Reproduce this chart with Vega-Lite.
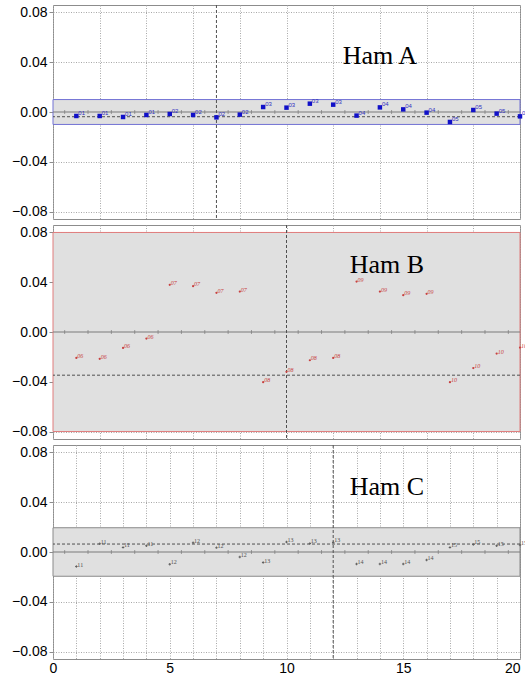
{
  "$schema": "https://vega.github.io/schema/vega-lite/v6.json",
  "padding": {"left": 11, "top": 4, "right": 3, "bottom": 0},
  "spacing": 4,
  "config": {
    "view": {"stroke": "#8c8c8c", "strokeWidth": 1},
    "font": "Liberation Sans",
    "axis": {"zindex": 1, "grid": true, "gridColor": "#a8a8a8", "gridDash": [1, 1.5], "gridWidth": 1, "domain": false, "labelFont": "Liberation Sans", "labelFontSize": 14, "labelColor": "#000000", "tickColor": "#8c8c8c", "title": null}
  },
  "datasets": {
    "pts": [
      {"panel": "A", "x": 1, "y": -0.0032, "label": "01"},
      {"panel": "A", "x": 2, "y": -0.0032, "label": "01"},
      {"panel": "A", "x": 3, "y": -0.004, "label": "01"},
      {"panel": "A", "x": 4, "y": -0.0024, "label": "01"},
      {"panel": "A", "x": 5, "y": -0.0016, "label": "02"},
      {"panel": "A", "x": 6, "y": -0.0024, "label": "02"},
      {"panel": "A", "x": 7, "y": -0.0043, "label": "02"},
      {"panel": "A", "x": 8, "y": -0.0021, "label": "02"},
      {"panel": "A", "x": 9, "y": 0.004, "label": "03"},
      {"panel": "A", "x": 10, "y": 0.0035, "label": "03"},
      {"panel": "A", "x": 11, "y": 0.0067, "label": "03"},
      {"panel": "A", "x": 12, "y": 0.0059, "label": "03"},
      {"panel": "A", "x": 13, "y": -0.0029, "label": "04"},
      {"panel": "A", "x": 14, "y": 0.0037, "label": "04"},
      {"panel": "A", "x": 15, "y": 0.0021, "label": "04"},
      {"panel": "A", "x": 16, "y": -0.0005, "label": "04"},
      {"panel": "A", "x": 17, "y": -0.008, "label": "05"},
      {"panel": "A", "x": 18, "y": 0.0016, "label": "05"},
      {"panel": "A", "x": 19, "y": -0.0013, "label": "05"},
      {"panel": "A", "x": 20, "y": -0.0035, "label": "05"},
      {"panel": "B", "x": 1, "y": -0.0208, "label": "06"},
      {"panel": "B", "x": 2, "y": -0.0216, "label": "06"},
      {"panel": "B", "x": 3, "y": -0.0128, "label": "06"},
      {"panel": "B", "x": 4, "y": -0.0053, "label": "06"},
      {"panel": "B", "x": 5, "y": 0.0379, "label": "07"},
      {"panel": "B", "x": 6, "y": 0.0368, "label": "07"},
      {"panel": "B", "x": 7, "y": 0.0315, "label": "07"},
      {"panel": "B", "x": 8, "y": 0.0325, "label": "07"},
      {"panel": "B", "x": 9, "y": -0.0403, "label": "08"},
      {"panel": "B", "x": 10, "y": -0.032, "label": "08"},
      {"panel": "B", "x": 11, "y": -0.0227, "label": "08"},
      {"panel": "B", "x": 12, "y": -0.0208, "label": "08"},
      {"panel": "B", "x": 13, "y": 0.0405, "label": "09"},
      {"panel": "B", "x": 14, "y": 0.0325, "label": "09"},
      {"panel": "B", "x": 15, "y": 0.0296, "label": "09"},
      {"panel": "B", "x": 16, "y": 0.0307, "label": "09"},
      {"panel": "B", "x": 17, "y": -0.0403, "label": "10"},
      {"panel": "B", "x": 18, "y": -0.029, "label": "10"},
      {"panel": "B", "x": 19, "y": -0.0173, "label": "10"},
      {"panel": "B", "x": 20, "y": -0.0125, "label": "10"},
      {"panel": "C", "x": 1, "y": -0.0117, "label": "11"},
      {"panel": "C", "x": 2, "y": 0.0067, "label": "11"},
      {"panel": "C", "x": 3, "y": 0.0037, "label": "11"},
      {"panel": "C", "x": 4, "y": 0.0051, "label": "11"},
      {"panel": "C", "x": 5, "y": -0.0099, "label": "12"},
      {"panel": "C", "x": 6, "y": 0.0075, "label": "12"},
      {"panel": "C", "x": 7, "y": 0.0035, "label": "12"},
      {"panel": "C", "x": 8, "y": -0.004, "label": "12"},
      {"panel": "C", "x": 9, "y": -0.0085, "label": "13"},
      {"panel": "C", "x": 10, "y": 0.008, "label": "13"},
      {"panel": "C", "x": 11, "y": 0.0069, "label": "13"},
      {"panel": "C", "x": 12, "y": 0.0077, "label": "13"},
      {"panel": "C", "x": 13, "y": -0.0096, "label": "14"},
      {"panel": "C", "x": 14, "y": -0.0096, "label": "14"},
      {"panel": "C", "x": 15, "y": -0.0096, "label": "14"},
      {"panel": "C", "x": 16, "y": -0.0064, "label": "14"},
      {"panel": "C", "x": 17, "y": 0.0037, "label": "15"},
      {"panel": "C", "x": 18, "y": 0.0061, "label": "15"},
      {"panel": "C", "x": 19, "y": 0.0051, "label": "15"},
      {"panel": "C", "x": 20, "y": 0.0056, "label": "15"}
    ],
    "ticks": [
      {"t": 0.5}, {"t": 1.5}, {"t": 2.5}, {"t": 3.5}, {"t": 4.5}, {"t": 5.5}, {"t": 6.5}, {"t": 7.5}, {"t": 8.5}, {"t": 9.5},
      {"t": 10.5}, {"t": 11.5}, {"t": 12.5}, {"t": 13.5}, {"t": 14.5}, {"t": 15.5}, {"t": 16.5}, {"t": 17.5}, {"t": 18.5}, {"t": 19.5}
    ]
  },
  "vconcat": [
    {
      "width": 467, "height": 214,
      "layer": [
        {
          "data": {"values": [{}]},
          "mark": {"type": "rect", "fill": "#e0e0e0", "stroke": "#7272d4", "strokeWidth": 1},
          "encoding": {
            "x": {"datum": 0, "type": "quantitative", "scale": {"domain": [0, 20], "nice": false, "zero": false},
                  "axis": {"grid": true, "values": [0,1,2,3,4,5,6,7,8,9,10,11,12,13,14,15,16,17,18,19,20], "labels": false, "ticks": false}},
            "x2": {"datum": 20},
            "y": {"datum": -0.01, "type": "quantitative", "scale": {"domain": [-0.086, 0.086], "nice": false, "zero": false},
                  "axis": {"grid": true, "values": [-0.08,-0.07,-0.06,-0.05,-0.04,-0.03,-0.02,-0.01,0,0.01,0.02,0.03,0.04,0.05,0.06,0.07,0.08],
                           "labelExpr": "abs(round(datum.value*100)) % 4 == 0 ? format(datum.value, '.2f') : ''", "tickSize": 4, "labelPadding": 2}},
            "y2": {"datum": 0.01}
          }
        },
        {"data": {"values": [{}]}, "mark": {"type": "rule", "color": "#7a7a7a", "strokeWidth": 1}, "encoding": {"y": {"datum": 0, "type": "quantitative"}}},
        {"data": {"name": "ticks"}, "mark": {"type": "tick", "orient": "vertical", "size": 4, "thickness": 1, "color": "#7a7a7a"},
         "encoding": {"x": {"field": "t", "type": "quantitative"}, "y": {"datum": 0, "type": "quantitative"}}},
        {"data": {"values": [{}]}, "mark": {"type": "rule", "color": "#505050", "strokeDash": [3, 2], "strokeWidth": 1}, "encoding": {"y": {"datum": -0.0038, "type": "quantitative"}}},
        {"data": {"values": [{}]}, "mark": {"type": "rule", "color": "#505050", "strokeDash": [3, 2], "strokeWidth": 1}, "encoding": {"x": {"datum": 7, "type": "quantitative"}}},
        {"data": {"name": "pts"}, "transform": [{"filter": "datum.panel == 'A'"}],
         "mark": {"type": "point", "shape": "square", "filled": true, "size": 20, "color": "#1010c8", "opacity": 1},
         "encoding": {"x": {"field": "x", "type": "quantitative"}, "y": {"field": "y", "type": "quantitative"}}},
        {"data": {"name": "pts"}, "transform": [{"filter": "datum.panel == 'A'"}],
         "mark": {"type": "text", "fontSize": 6, "align": "left", "baseline": "middle", "dx": 2, "dy": -3, "color": "#3030c0"},
         "encoding": {"x": {"field": "x", "type": "quantitative"}, "y": {"field": "y", "type": "quantitative"}, "text": {"field": "label"}}},
        {"data": {"values": [{}]}, "mark": {"type": "text", "font": "Liberation Serif", "fontSize": 26, "color": "#000000"},
         "encoding": {"x": {"datum": 14.0, "type": "quantitative"}, "y": {"datum": 0.045, "type": "quantitative"}, "text": {"value": "Ham A"}}}
      ]
    },
    {
      "width": 467, "height": 214,
      "layer": [
        {
          "data": {"values": [{}]},
          "mark": {"type": "rect", "fill": "#e0e0e0", "stroke": "#e07c7c", "strokeWidth": 1},
          "encoding": {
            "x": {"datum": 0, "type": "quantitative", "scale": {"domain": [0, 20], "nice": false, "zero": false},
                  "axis": {"grid": true, "values": [0,1,2,3,4,5,6,7,8,9,10,11,12,13,14,15,16,17,18,19,20], "labels": false, "ticks": false}},
            "x2": {"datum": 20},
            "y": {"datum": -0.08, "type": "quantitative", "scale": {"domain": [-0.086, 0.086], "nice": false, "zero": false},
                  "axis": {"grid": true, "values": [-0.08,-0.07,-0.06,-0.05,-0.04,-0.03,-0.02,-0.01,0,0.01,0.02,0.03,0.04,0.05,0.06,0.07,0.08],
                           "labelExpr": "abs(round(datum.value*100)) % 4 == 0 ? format(datum.value, '.2f') : ''", "tickSize": 4, "labelPadding": 2}},
            "y2": {"datum": 0.08}
          }
        },
        {"data": {"values": [{}]}, "mark": {"type": "rule", "color": "#7a7a7a", "strokeWidth": 1}, "encoding": {"y": {"datum": 0, "type": "quantitative"}}},
        {"data": {"name": "ticks"}, "mark": {"type": "tick", "orient": "vertical", "size": 4, "thickness": 1, "color": "#7a7a7a"},
         "encoding": {"x": {"field": "t", "type": "quantitative"}, "y": {"datum": 0, "type": "quantitative"}}},
        {"data": {"values": [{}]}, "mark": {"type": "rule", "color": "#505050", "strokeDash": [3, 2], "strokeWidth": 1}, "encoding": {"y": {"datum": -0.0347, "type": "quantitative"}}},
        {"data": {"values": [{}]}, "mark": {"type": "rule", "color": "#505050", "strokeDash": [3, 2], "strokeWidth": 1}, "encoding": {"x": {"datum": 10, "type": "quantitative"}}},
        {"data": {"name": "pts"}, "transform": [{"filter": "datum.panel == 'B'"}],
         "mark": {"type": "point", "shape": "circle", "filled": true, "size": 5, "color": "#c84040", "opacity": 1},
         "encoding": {"x": {"field": "x", "type": "quantitative"}, "y": {"field": "y", "type": "quantitative"}}},
        {"data": {"name": "pts"}, "transform": [{"filter": "datum.panel == 'B'"}],
         "mark": {"type": "text", "fontSize": 6, "align": "left", "baseline": "middle", "dx": 1, "dy": -2, "color": "#c84040", "font": "Liberation Serif", "fontStyle": "italic"},
         "encoding": {"x": {"field": "x", "type": "quantitative"}, "y": {"field": "y", "type": "quantitative"}, "text": {"field": "label"}}},
        {"data": {"values": [{}]}, "mark": {"type": "text", "font": "Liberation Serif", "fontSize": 26, "color": "#000000"},
         "encoding": {"x": {"datum": 14.3, "type": "quantitative"}, "y": {"datum": 0.054, "type": "quantitative"}, "text": {"value": "Ham B"}}}
      ]
    },
    {
      "width": 467, "height": 214,
      "resolve": {"axis": {"x": "independent"}},
      "layer": [
        {
          "data": {"values": [{}]},
          "mark": {"type": "rect", "fill": "#e0e0e0", "stroke": "#8a8a8a", "strokeWidth": 1},
          "encoding": {
            "x": {"datum": 0, "type": "quantitative", "scale": {"domain": [0, 20], "nice": false, "zero": false},
                  "axis": {"orient": "bottom", "grid": true, "values": [0,1,2,3,4,5,6,7,8,9,10,11,12,13,14,15,16,17,18,19,20], "labels": false, "ticks": false}},
            "x2": {"datum": 20},
            "y": {"datum": -0.0195, "type": "quantitative", "scale": {"domain": [-0.086, 0.086], "nice": false, "zero": false},
                  "axis": {"grid": true, "values": [-0.08,-0.07,-0.06,-0.05,-0.04,-0.03,-0.02,-0.01,0,0.01,0.02,0.03,0.04,0.05,0.06,0.07,0.08],
                           "labelExpr": "abs(round(datum.value*100)) % 4 == 0 ? format(datum.value, '.2f') : ''", "tickSize": 4, "labelPadding": 2}},
            "y2": {"datum": 0.0195}
          }
        },
        {"data": {"values": [{}]}, "mark": {"type": "rule", "color": "#7a7a7a", "strokeWidth": 1}, "encoding": {"y": {"datum": 0, "type": "quantitative"}}},
        {"data": {"name": "ticks"}, "mark": {"type": "tick", "orient": "vertical", "size": 4, "thickness": 1, "color": "#7a7a7a"},
         "encoding": {"x": {"field": "t", "type": "quantitative", "axis": null}, "y": {"datum": 0, "type": "quantitative"}}},
        {"data": {"values": [{}]}, "mark": {"type": "rule", "color": "#505050", "strokeDash": [3, 2], "strokeWidth": 1}, "encoding": {"y": {"datum": 0.0064, "type": "quantitative"}}},
        {"data": {"values": [{}]}, "mark": {"type": "rule", "color": "#505050", "strokeDash": [3, 2], "strokeWidth": 1}, "encoding": {"x": {"datum": 12, "type": "quantitative", "axis": null}}},
        {"data": {"name": "pts"}, "transform": [{"filter": "datum.panel == 'C'"}],
         "mark": {"type": "point", "shape": "cross", "filled": true, "size": 6, "color": "#606060", "opacity": 1},
         "encoding": {"x": {"field": "x", "type": "quantitative", "axis": null}, "y": {"field": "y", "type": "quantitative"}}},
        {"data": {"name": "pts"}, "transform": [{"filter": "datum.panel == 'C'"}],
         "mark": {"type": "text", "fontSize": 6, "align": "left", "baseline": "middle", "dx": 1, "dy": -2, "color": "#505050", "font": "Liberation Serif"},
         "encoding": {"x": {"field": "x", "type": "quantitative", "axis": null}, "y": {"field": "y", "type": "quantitative"}, "text": {"field": "label"}}},
        {"data": {"values": [{}]}, "mark": {"type": "text", "font": "Liberation Serif", "fontSize": 26, "color": "#000000"},
         "encoding": {"x": {"datum": 14.3, "type": "quantitative",
                            "axis": {"orient": "bottom", "grid": false, "ticks": false, "values": [0, 5, 10, 15, 20], "labelPadding": 2, "labelFontSize": 14, "labelOverlap": false,
                                     "labelAlign": {"condition": {"test": "datum.value == 20", "value": "right"}, "value": "center"}}},
                      "y": {"datum": 0.052, "type": "quantitative"}, "text": {"value": "Ham C"}}}
      ]
    }
  ]
}
